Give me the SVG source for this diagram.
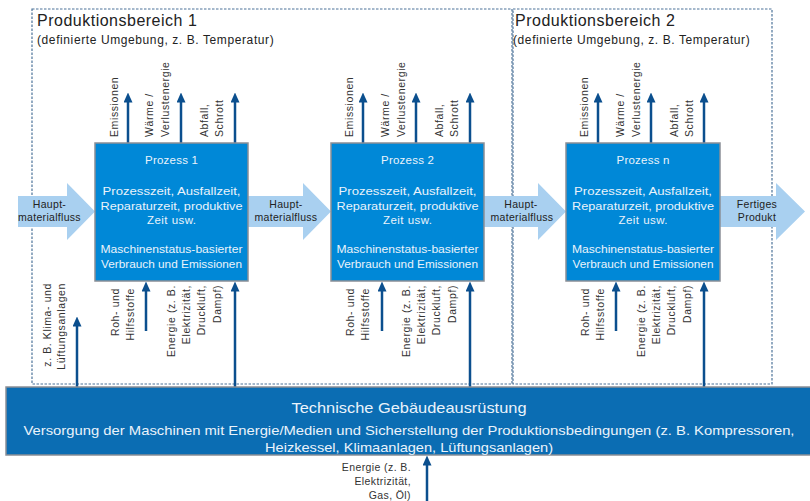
<svg xmlns="http://www.w3.org/2000/svg" width="810" height="501" viewBox="0 0 810 501">
<style>
  text { font-family: "Liberation Sans", Arial, sans-serif; }
  .region { fill: none; stroke: #4D7399; stroke-width: 1.2; stroke-dasharray: 2.5 1.5; }
  .rtitle { font-size: 16px; letter-spacing: 0.5px; fill: #222; }
  .rsub { font-size: 12px; letter-spacing: 0.6px; fill: #222; }
  .proc { fill: #0088D7; stroke: #8A8F96; stroke-width: 1.5; }
  .ptext { font-size: 11.5px; fill: #EAF3FB; text-anchor: middle; }
  .flow { fill: #A9D0F0; }
  .ftext { font-size: 10.5px; letter-spacing: 0.3px; fill: #222; text-anchor: middle; }
  .dark { stroke: #0B4F8E; stroke-width: 2.5; fill: none; marker-end: url(#ah); }
  .vl { font-size: 10.5px; letter-spacing: 0.6px; fill: #333; }
  .vs { text-anchor: start; }
  .ve { text-anchor: end; }
  .bar { fill: #0B6DB3; stroke: #8A8F96; stroke-width: 1.5; }
  .btitle { font-size: 15px; fill: #EAF3FB; text-anchor: middle; }
  .btext { font-size: 13px; fill: #EAF3FB; text-anchor: middle; }
  .etext { font-size: 10.5px; letter-spacing: 0.4px; fill: #333; text-anchor: end; }
</style>
<defs>
  <marker id="ah" viewBox="0 0 10 9" refX="0.5" refY="4.5" markerWidth="10" markerHeight="9" markerUnits="userSpaceOnUse" orient="auto">
    <path d="M0,0 L10,4.5 L0,9 z" fill="#0B4F8E"/>
  </marker>
</defs>

<g id="region1">
  <rect class="region" x="32" y="9" width="480" height="375"/>
  <text class="rtitle" x="37" y="26">Produktionsbereich 1</text>
  <text class="rsub" x="37" y="44">(definierte Umgebung, z. B. Temperatur)</text>
</g>
<g id="region2">
  <rect class="region" x="513" y="9" width="259" height="375"/>
  <text class="rtitle" x="515" y="26">Produktionsbereich 2</text>
  <text class="rsub" x="513" y="44">(definierte Umgebung, z. B. Temperatur)</text>
</g>

<g id="connectors">
  <!-- main material flow arrows -->
  <polygon class="flow" points="18,196 67,196 67,183 95,211.5 67,240 67,227 18,227"/>
  <polygon class="flow" points="248,196 303,196 303,183 331,211.5 303,240 303,227 248,227"/>
  <polygon class="flow" points="484,196 538,196 538,183 566,211.5 538,240 538,227 484,227"/>
  <polygon class="flow" points="720,196 776,196 776,183 805,211.5 776,240 776,227 720,227"/>
  <text class="ftext" x="49.5" y="208">Haupt-</text>
  <text class="ftext" x="49.5" y="221">materialfluss</text>
  <text class="ftext" x="286" y="208">Haupt-</text>
  <text class="ftext" x="286" y="221">materialfluss</text>
  <text class="ftext" x="521" y="208">Haupt-</text>
  <text class="ftext" x="522" y="221">materialfluss</text>
  <text class="ftext" x="757" y="208">Fertiges</text>
  <text class="ftext" x="757" y="221">Produkt</text>

  <!-- outputs top -->
  <line class="dark" x1="128" y1="143" x2="128" y2="102"/>
  <line class="dark" x1="181" y1="143" x2="181" y2="102"/>
  <line class="dark" x1="235" y1="143" x2="235" y2="102"/>
  <line class="dark" x1="363" y1="143" x2="363" y2="102"/>
  <line class="dark" x1="416" y1="143" x2="416" y2="102"/>
  <line class="dark" x1="470" y1="143" x2="470" y2="102"/>
  <line class="dark" x1="598" y1="143" x2="598" y2="102"/>
  <line class="dark" x1="651" y1="143" x2="651" y2="102"/>
  <line class="dark" x1="704" y1="143" x2="704" y2="102"/>

  <!-- inputs bottom -->
  <line class="dark" x1="77" y1="387" x2="77" y2="326"/>
  <line class="dark" x1="146" y1="331" x2="146" y2="291"/>
  <line class="dark" x1="235" y1="387" x2="235" y2="291"/>
  <line class="dark" x1="382" y1="331" x2="382" y2="291"/>
  <line class="dark" x1="470" y1="387" x2="470" y2="291"/>
  <line class="dark" x1="616" y1="331" x2="616" y2="291"/>
  <line class="dark" x1="704" y1="387" x2="704" y2="291"/>
  <line class="dark" x1="427" y1="501" x2="427" y2="465"/>

  <!-- labels top: box 1 (L=95) -->
  <text class="vl vs" transform="translate(117.5,137) rotate(-90)">Emissionen</text>
  <text class="vl vs" transform="translate(152.5,137) rotate(-90)">Wärme /</text>
  <text class="vl vs" transform="translate(168.5,137) rotate(-90)">Verlustenergie</text>
  <text class="vl vs" transform="translate(207.5,137) rotate(-90)">Abfall,</text>
  <text class="vl vs" transform="translate(222.5,137) rotate(-90)">Schrott</text>
  <!-- box 2 (L=331) -->
  <text class="vl vs" transform="translate(352.5,137) rotate(-90)">Emissionen</text>
  <text class="vl vs" transform="translate(388.5,137) rotate(-90)">Wärme /</text>
  <text class="vl vs" transform="translate(404.5,137) rotate(-90)">Verlustenergie</text>
  <text class="vl vs" transform="translate(442.5,137) rotate(-90)">Abfall,</text>
  <text class="vl vs" transform="translate(457.5,137) rotate(-90)">Schrott</text>
  <!-- box n (L=566) -->
  <text class="vl vs" transform="translate(587.5,137) rotate(-90)">Emissionen</text>
  <text class="vl vs" transform="translate(623.5,137) rotate(-90)">Wärme /</text>
  <text class="vl vs" transform="translate(639.5,137) rotate(-90)">Verlustenergie</text>
  <text class="vl vs" transform="translate(677.5,137) rotate(-90)">Abfall,</text>
  <text class="vl vs" transform="translate(692.5,137) rotate(-90)">Schrott</text>

  <!-- labels bottom -->
  <text class="vl ve" transform="translate(50.5,283) rotate(-90)">z. B. Klima- und</text>
  <text class="vl ve" transform="translate(64.5,283) rotate(-90)">Lüftungsanlagen</text>

  <text class="vl ve" transform="translate(118.5,288) rotate(-90)">Roh- und</text>
  <text class="vl ve" transform="translate(133.5,288) rotate(-90)">Hilfsstoffe</text>
  <text class="vl ve" transform="translate(174.5,285) rotate(-90)">Energie (z. B.</text>
  <text class="vl ve" transform="translate(189.5,285) rotate(-90)">Elektrizität,</text>
  <text class="vl ve" transform="translate(204.5,285) rotate(-90)">Druckluft,</text>
  <text class="vl ve" transform="translate(220.5,285) rotate(-90)">Dampf)</text>

  <text class="vl ve" transform="translate(353.5,288) rotate(-90)">Roh- und</text>
  <text class="vl ve" transform="translate(368.5,288) rotate(-90)">Hilfsstoffe</text>
  <text class="vl ve" transform="translate(409.5,285) rotate(-90)">Energie (z. B.</text>
  <text class="vl ve" transform="translate(424.5,285) rotate(-90)">Elektrizität,</text>
  <text class="vl ve" transform="translate(439.5,285) rotate(-90)">Druckluft,</text>
  <text class="vl ve" transform="translate(455.5,285) rotate(-90)">Dampf)</text>

  <text class="vl ve" transform="translate(588.5,288) rotate(-90)">Roh- und</text>
  <text class="vl ve" transform="translate(603.5,288) rotate(-90)">Hilfsstoffe</text>
  <text class="vl ve" transform="translate(644.5,285) rotate(-90)">Energie (z. B.</text>
  <text class="vl ve" transform="translate(659.5,285) rotate(-90)">Elektrizität,</text>
  <text class="vl ve" transform="translate(674.5,285) rotate(-90)">Druckluft,</text>
  <text class="vl ve" transform="translate(690.5,285) rotate(-90)">Dampf)</text>

  <text class="etext" x="411" y="471">Energie (z. B.</text>
  <text class="etext" x="411" y="485">Elektrizität,</text>
  <text class="etext" x="411" y="499">Gas, Öl)</text>
</g>

<g id="process1">
  <rect class="proc" x="95" y="143" width="153" height="138"/>
  <text class="ptext" x="171.5" y="164" textLength="53" lengthAdjust="spacing">Prozess 1</text>
  <text class="ptext" x="171.5" y="195" textLength="138" lengthAdjust="spacingAndGlyphs">Prozesszeit, Ausfallzeit,</text>
  <text class="ptext" x="171.5" y="209.5" textLength="142" lengthAdjust="spacingAndGlyphs">Reparaturzeit, produktive</text>
  <text class="ptext" x="171.5" y="224" textLength="49" lengthAdjust="spacing">Zeit usw.</text>
  <text class="ptext" x="171.5" y="253" textLength="142" lengthAdjust="spacingAndGlyphs">Maschinenstatus-basierter</text>
  <text class="ptext" x="171.5" y="268" textLength="141" lengthAdjust="spacingAndGlyphs">Verbrauch und Emissionen</text>
</g>
<g id="process2">
  <rect class="proc" x="331" y="143" width="153" height="138"/>
  <text class="ptext" x="407.5" y="164" textLength="53" lengthAdjust="spacing">Prozess 2</text>
  <text class="ptext" x="407.5" y="195" textLength="138" lengthAdjust="spacingAndGlyphs">Prozesszeit, Ausfallzeit,</text>
  <text class="ptext" x="407.5" y="209.5" textLength="142" lengthAdjust="spacingAndGlyphs">Reparaturzeit, produktive</text>
  <text class="ptext" x="407.5" y="224" textLength="49" lengthAdjust="spacing">Zeit usw.</text>
  <text class="ptext" x="407.5" y="253" textLength="142" lengthAdjust="spacingAndGlyphs">Maschinenstatus-basierter</text>
  <text class="ptext" x="407.5" y="268" textLength="141" lengthAdjust="spacingAndGlyphs">Verbrauch und Emissionen</text>
</g>
<g id="processN">
  <rect class="proc" x="566" y="143" width="154" height="138"/>
  <text class="ptext" x="643" y="164" textLength="53" lengthAdjust="spacing">Prozess n</text>
  <text class="ptext" x="643" y="195" textLength="138" lengthAdjust="spacingAndGlyphs">Prozesszeit, Ausfallzeit,</text>
  <text class="ptext" x="643" y="209.5" textLength="142" lengthAdjust="spacingAndGlyphs">Reparaturzeit, produktive</text>
  <text class="ptext" x="643" y="224" textLength="49" lengthAdjust="spacing">Zeit usw.</text>
  <text class="ptext" x="643" y="253" textLength="142" lengthAdjust="spacingAndGlyphs">Maschinenstatus-basierter</text>
  <text class="ptext" x="643" y="268" textLength="141" lengthAdjust="spacingAndGlyphs">Verbrauch und Emissionen</text>
</g>

<g id="tga">
  <rect class="bar" x="6" y="387" width="810" height="68"/>
  <text class="btitle" x="409" y="413" textLength="235" lengthAdjust="spacingAndGlyphs">Technische Gebäudeausrüstung</text>
  <text class="btext" x="409" y="435" textLength="771" lengthAdjust="spacingAndGlyphs">Versorgung der Maschinen mit Energie/Medien und Sicherstellung der Produktionsbedingungen (z. B. Kompressoren,</text>
  <text class="btext" x="409" y="452" textLength="288" lengthAdjust="spacingAndGlyphs">Heizkessel, Klimaanlagen, Lüftungsanlagen)</text>
</g>
</svg>
